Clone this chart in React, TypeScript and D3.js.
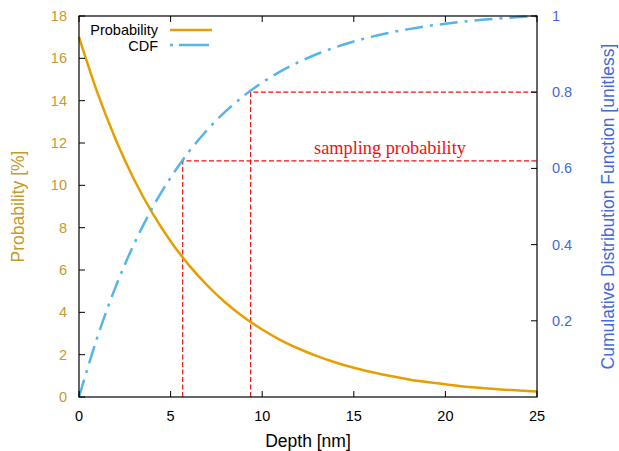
import React from "react";
import * as d3 from "d3";

const depth = [0,1,2,3,4,5,6,7,8,9,10,11,12,13,14,15,16,17,18,19,20,21,22,23,24,25];
const probability = [17.01,14.39,12.17,10.29,8.70,7.36,6.23,5.27,4.45,3.77,3.19,2.69,2.28,1.93,1.63,1.38,1.17,0.99,0.83,0.71,0.60,0.50,0.43,0.36,0.31,0.26];
const cdf = [0,0.1566,0.2891,0.4011,0.4958,0.5759,0.6437,0.7010,0.7495,0.7905,0.8252,0.8546,0.8793,0.9003,0.9181,0.9331,0.9458,0.9565,0.9656,0.9733,0.9798,0.9853,0.9899,0.9939,0.9972,1.0];
const samplingDepth = [5.66, 9.37];
const samplingCdf = [0.62, 0.80];
const xTicks = [0,5,10,15,20,25];
const yTicks = [0,2,4,6,8,10,12,14,16,18];
const y2Ticks = [0.2,0.4,0.6,0.8,1];

const W = 619, H = 451;
const L = 79, R = 537, T = 16, B = 397;
const ORANGE = "#e69f00";
const SKY = "#56b4e9";
const GOLD = "#c59a2e";
const BLUE = "#4169e1";
const RED = "#ee1111";
const SANS = "'Liberation Sans', Arial, sans-serif";

export default function App() {
  const x = d3.scaleLinear().domain([0, 25]).range([L, R]);
  const y = d3.scaleLinear().domain([0, 18]).range([B, T]);
  const y2 = d3.scaleLinear().domain([0, 1]).range([B, T]);

  const pLine = d3.line<number>().x((_, i) => x(depth[i])).y((d) => y(d)).curve(d3.curveMonotoneX);
  const cLine = d3.line<number>().x((_, i) => x(depth[i])).y((d) => y2(d)).curve(d3.curveMonotoneX);

  const tickLen = 6;
  return (
    <svg width={W} height={H} style={{ position: "absolute", left: 0, top: 0, background: "#fff" }} fontFamily={SANS}>
      {samplingDepth.map((d, i) => (
        <path key={"s" + i}
          d={`M${x(d)},${B} V${y2(samplingCdf[i])} H${R}`}
          fill="none" stroke={RED} strokeWidth={1.2} strokeDasharray="5,2.5" />
      ))}
      <text x={390} y={154} textAnchor="middle" fill={RED} fontFamily="'Liberation Serif', 'DejaVu Serif', serif" fontSize={18.3}>sampling probability</text>

      <path d={pLine(probability) || ""} fill="none" stroke={ORANGE} strokeWidth={2.5} />
      <path d={cLine(cdf) || ""} fill="none" stroke={SKY} strokeWidth={2.5} strokeDasharray="18,7,3,7" />

      <rect x={L} y={T} width={R - L} height={B - T} fill="none" stroke="#000" strokeWidth={1.2} />

      {xTicks.map((t) => (
        <g key={"x" + t}>
          <line x1={x(t)} x2={x(t)} y1={B} y2={B - tickLen} stroke="#000" />
          <line x1={x(t)} x2={x(t)} y1={T} y2={T + tickLen} stroke="#000" />
          <text x={x(t)} y={B + 24} textAnchor="middle" fontSize={14.5} fill="#000">{t}</text>
        </g>
      ))}
      {yTicks.map((t) => (
        <g key={"y" + t}>
          <line x1={L} x2={L + tickLen} y1={y(t)} y2={y(t)} stroke="#000" />
          <text x={67} y={y(t) + 5} textAnchor="end" fontSize={14.5} fill={GOLD}>{t}</text>
        </g>
      ))}
      {y2Ticks.map((t) => (
        <g key={"y2" + t}>
          <line x1={R} x2={R - tickLen} y1={y2(t)} y2={y2(t)} stroke="#000" />
          <text x={552} y={y2(t) + 5} textAnchor="start" fontSize={14.5} fill={BLUE}>{t}</text>
        </g>
      ))}

      <text x={(L + R) / 2} y={447} textAnchor="middle" fontSize={17.5} fill="#000">Depth [nm]</text>
      <text transform={`translate(24,${(T + B) / 2}) rotate(-90)`} textAnchor="middle" fontSize={17.5} fill={GOLD}>Probability [%]</text>
      <text transform={`translate(614,${(T + B) / 2}) rotate(-90)`} textAnchor="middle" fontSize={17.5} fill={BLUE}>Cumulative Distribution Function [unitless]</text>

      <text x={158} y={35} textAnchor="end" fontSize={14.5} fill="#000">Probability</text>
      <line x1={170} x2={212} y1={30} y2={30} stroke={ORANGE} strokeWidth={2.5} />
      <text x={158} y={51} textAnchor="end" fontSize={14.5} fill="#000">CDF</text>
      <line x1={170} x2={212} y1={45} y2={45} stroke={SKY} strokeWidth={2.5} strokeDasharray="3,6,30,6" />
    </svg>
  );
}
